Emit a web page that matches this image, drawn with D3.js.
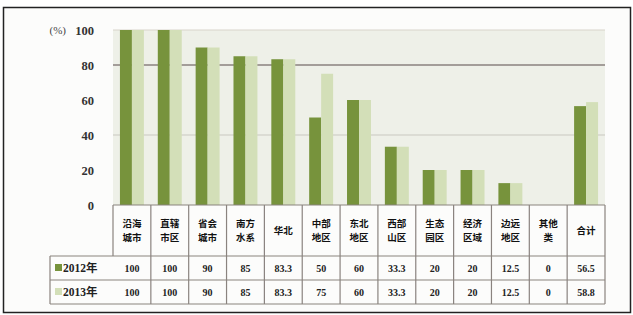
<!DOCTYPE html>
<html>
<head>
<meta charset="utf-8">
<script src="https://cdn.jsdelivr.net/npm/d3@7/dist/d3.min.js"></script>
<style>
  body { margin: 0; background: #fff; }
  svg { display: block; }
  .num { font-family: "Liberation Serif", serif; font-size: 10px; font-weight: bold; fill: #222; }
  .cat { font-family: "Noto Sans CJK SC", sans-serif; font-size: 9.5px; font-weight: bold; fill: #111; }
</style>
</head>
<body>
<div id="area"></div>
<script>
// categories (two lines each) and yearly values
var categories = ['沿海\n城市', '直辖\n市区', '省会\n城市', '南方\n水系', '华北', '中部\n地区',
                  '东北\n地区', '西部\n山区', '生态\n园区', '经济\n区域', '边远\n地区', '其他\n类', '合计'];
var series = ['2012年', '2013年'];
var values2012 = [100, 100, 90, 85, 83.3, 50, 60, 33.3, 20, 20, 12.5, 0, 56.5];
var values2013 = [100, 100, 90, 85, 83.3, 75, 60, 33.3, 20, 20, 12.5, 0, 58.8];
var yTicks = [0, 20, 40, 60, 80, 100];

var width = 633, height = 315;
var dark_green = '#77933c',
    light_green = '#d3dfb8',
    plot_bg = '#eef0e8',
    table_line = '#8a837f';

var plotLeft = 113, plotRight = 605, plotTop = 30, plotBottom = 205;
var tableLeft = 50, catBottom = 256, row1Bottom = 280, row2Bottom = 304;

var svg = d3.select('#area').append('svg')
    .attr('width', width)
    .attr('height', height);

// outer frame
svg.append('rect')
    .attr('x', 3.5).attr('y', 7.5)
    .attr('width', 627).attr('height', 305)
    .attr('fill', '#fcfcfb')
    .attr('stroke', '#222')
    .attr('stroke-width', 1.5);

var x = d3.scaleBand().domain(categories).range([plotLeft, plotRight]);
var x1 = d3.scaleBand().domain(series).range([0, x.bandwidth()]).paddingOuter(0.58);
var y = d3.scaleLinear().domain([0, 100]).range([plotBottom, plotTop]);

// plot background
svg.append('rect')
    .attr('x', plotLeft).attr('y', plotTop)
    .attr('width', plotRight - plotLeft).attr('height', plotBottom - plotTop)
    .attr('fill', plot_bg);

// gridlines
var grid = [
    { v: 100, c: '#d8d4ca', w: 1 },
    { v: 80, c: '#a39d99', w: 2 },
    { v: 40, c: '#c9c8c0', w: 1 }
];
svg.selectAll('.grid').data(grid).enter().append('line')
    .attr('class', 'grid')
    .attr('x1', plotLeft).attr('x2', plotRight)
    .attr('y1', d => y(d.v)).attr('y2', d => y(d.v))
    .attr('stroke', d => d.c)
    .attr('stroke-width', d => d.w);

// y axis
var yAxis = svg.append('g')
    .attr('transform', 'translate(' + plotLeft + ',0)')
    .call(d3.axisLeft(y).tickValues(yTicks).tickSize(0).tickPadding(19));
yAxis.select('.domain').remove();
yAxis.selectAll('text')
    .attr('font-family', '"Liberation Serif", serif')
    .attr('font-size', '12.5px')
    .attr('font-weight', 'bold')
    .attr('fill', '#333');

svg.append('text')
    .attr('x', 66).attr('y', y(100) + 4)
    .attr('text-anchor', 'end')
    .attr('font-family', '"Liberation Serif", serif')
    .attr('font-size', '11px')
    .attr('fill', '#444')
    .text('(%)');

// bars
var rows = categories.map((c, i) => ({ cat: c, vals: [values2012[i], values2013[i]] }));
var colors = [dark_green, light_green];

var groups = svg.selectAll('.grp').data(rows).enter().append('g')
    .attr('class', 'grp')
    .attr('transform', d => 'translate(' + x(d.cat) + ',0)');

groups.selectAll('rect')
    .data(d => d.vals.map((v, j) => ({ s: series[j], v: v, j: j })))
    .enter().append('rect')
    .attr('x', d => x1(d.s))
    .attr('width', x1.bandwidth())
    .attr('y', d => y(d.v))
    .attr('height', d => y(0) - y(d.v))
    .attr('fill', d => colors[d.j]);

// data table
var lineG = svg.append('g').attr('stroke', table_line).attr('stroke-width', 1.2);
lineG.append('line').attr('x1', plotLeft).attr('x2', plotRight).attr('y1', plotBottom).attr('y2', plotBottom);
[catBottom, row1Bottom, row2Bottom].forEach(function (yy) {
    lineG.append('line').attr('x1', tableLeft).attr('x2', plotRight).attr('y1', yy).attr('y2', yy);
});
lineG.append('line').attr('x1', tableLeft).attr('x2', tableLeft).attr('y1', catBottom).attr('y2', row2Bottom);
lineG.append('line').attr('x1', plotLeft).attr('x2', plotLeft).attr('y1', plotBottom).attr('y2', catBottom);
categories.forEach(function (c) {
    var xx = x(c) + x.bandwidth();
    lineG.append('line').attr('x1', xx).attr('x2', xx).attr('y1', plotBottom).attr('y2', row2Bottom);
});

// category labels
categories.forEach(function (c) {
    var parts = c.split('\n');
    var cx = x(c) + x.bandwidth() / 2;
    var cy = (plotBottom + catBottom) / 2;
    var t = svg.append('text').attr('class', 'cat').attr('text-anchor', 'middle');
    parts.forEach(function (p, k) {
        t.append('tspan')
            .attr('x', cx)
            .attr('y', cy + 3 + (k - (parts.length - 1) / 2) * 14)
            .text(p);
    });
});

// value rows with legend keys
var rowY = [(catBottom + row1Bottom) / 2, (row1Bottom + row2Bottom) / 2];
[values2012, values2013].forEach(function (vals, j) {
    svg.append('rect')
        .attr('x', 55).attr('y', rowY[j] - 4)
        .attr('width', 7).attr('height', 7)
        .attr('fill', colors[j]);
    svg.append('text')
        .attr('x', 63).attr('y', rowY[j] + 4)
        .attr('font-family', '"Liberation Serif", "Noto Sans CJK SC", serif')
        .attr('font-size', '11.5px')
        .attr('font-weight', 'bold')
        .attr('fill', '#222')
        .text(series[j]);
    svg.selectAll('.v' + j).data(vals).enter().append('text')
        .attr('class', 'num v' + j)
        .attr('x', (d, i) => x(categories[i]) + x.bandwidth() / 2)
        .attr('y', rowY[j] + 4)
        .attr('text-anchor', 'middle')
        .text(d => d);
});
</script>
</body>
</html>
